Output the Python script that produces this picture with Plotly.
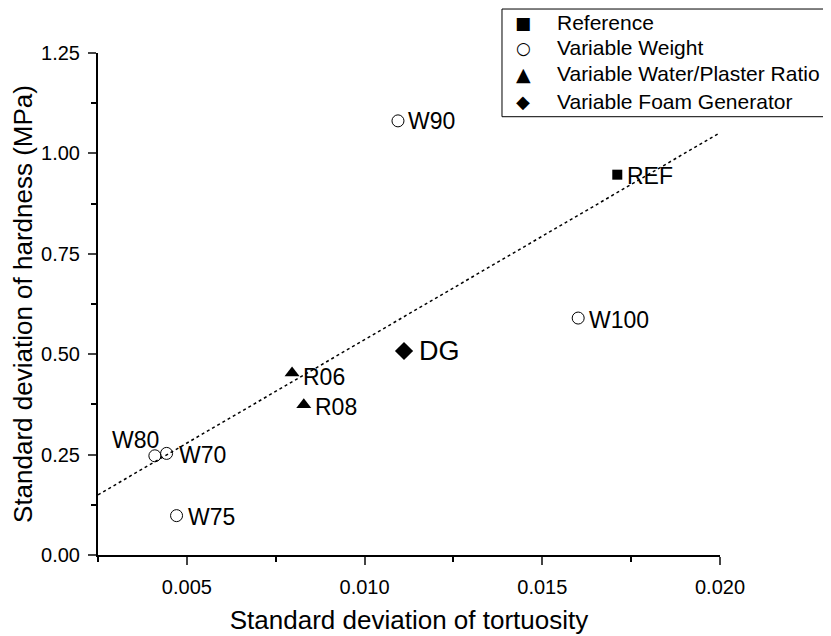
import numpy as np
import plotly.graph_objects as go

# data
ref_names = ["REF"]
ref_x = [0.01711]
ref_y = [0.947]

weight_names = ["W90", "W100", "W80", "W70", "W75"]
weight_x = [0.01094, 0.01601, 0.00410, 0.00443, 0.00471]
weight_y = [1.081, 0.590, 0.247, 0.253, 0.098]

ratio_names = ["R06", "R08"]
ratio_x = [0.00796, 0.00829]
ratio_y = [0.453, 0.374]

foam_names = ["DG"]
foam_x = [0.01111]
foam_y = [0.508]

legend_names = ["Reference", "Variable Weight", "Variable Water/Plaster Ratio",
                "Variable Foam Generator"]
legend_glyphs = ["\u25A0", "\u25CB", "\u25B2", "\u25C6"]

x_range = [0.0025, 0.020]
y_range = [0, 1.25]

font_family = "Arial, Liberation Sans, sans-serif"

# linear fit over all points
all_x = np.array(ref_x + weight_x + ratio_x + foam_x)
all_y = np.array(ref_y + weight_y + ratio_y + foam_y)
slope, intercept = np.polyfit(all_x, all_y, 1)
fit_x = np.array(x_range)
fit_y = slope * fit_x + intercept

fig = go.Figure()

fig.add_trace(go.Scatter(x=fit_x, y=fit_y, mode='lines',
                         line=dict(color='black', width=1.5, dash='dot'),
                         showlegend=False, hoverinfo='skip'))

fig.add_trace(go.Scatter(x=ref_x, y=ref_y, mode='markers', name=legend_names[0],
                         marker=dict(symbol='square', size=10, color='black')))
fig.add_trace(go.Scatter(x=weight_x, y=weight_y, mode='markers', name=legend_names[1],
                         marker=dict(symbol='circle-open', size=12, color='black',
                                     line=dict(width=1))))
fig.add_trace(go.Scatter(x=ratio_x, y=ratio_y, mode='markers', name=legend_names[2],
                         marker=dict(symbol='triangle-up', size=13, color='black')))
fig.add_trace(go.Scatter(x=foam_x, y=foam_y, mode='markers', name=legend_names[3],
                         marker=dict(symbol='diamond', size=14, color='black')))

# point labels
label_style = {
    "REF": dict(xanchor='left', xshift=8, yshift=-1, size=23),
    "W90": dict(xanchor='left', xshift=8, yshift=0, size=23),
    "W100": dict(xanchor='left', xshift=9, yshift=-2, size=23),
    "W80": dict(xanchor='right', xshift=6, yshift=16, size=23),
    "W70": dict(xanchor='left', xshift=10, yshift=-2, size=23),
    "W75": dict(xanchor='left', xshift=9, yshift=-1, size=23),
    "R06": dict(xanchor='left', xshift=9, yshift=-4, size=23),
    "R08": dict(xanchor='left', xshift=9, yshift=-2, size=23),
    "DG": dict(xanchor='left', xshift=13, yshift=0, size=27),
}
names = ref_names + weight_names + ratio_names + foam_names
for name, x, y in zip(names, all_x, all_y):
    s = label_style[name]
    fig.add_annotation(x=x, y=y, text=name, showarrow=False,
                       xanchor=s['xanchor'], yanchor='middle',
                       xshift=s['xshift'], yshift=s['yshift'],
                       font=dict(size=s['size'], color='black', family=font_family))

# legend box drawn by hand so the row spacing matches
fig.add_shape(type='rect', xref='paper', yref='paper',
              x0=0.6495, x1=1.2, y0=0.8731, y1=1.0876,
              line=dict(color='black', width=1), fillcolor='white', layer='above')
legend_rows = [1.0598, 1.0100, 0.9582, 0.9024]
legend_glyph_sizes = [17, 17, 19, 18]
for glyph, gsize, label, yy in zip(legend_glyphs, legend_glyph_sizes, legend_names, legend_rows):
    fig.add_annotation(x=0.6833, y=yy, xref='paper', yref='paper', text=glyph,
                       showarrow=False, xanchor='center', yanchor='middle',
                       font=dict(size=gsize, color='black', family="DejaVu Sans"))
    fig.add_annotation(x=0.7347, y=yy, xref='paper', yref='paper', text=label,
                       showarrow=False, xanchor='left', yanchor='middle',
                       font=dict(size=21, color='black', family=font_family))

fig.update_layout(
    width=831, height=636,
    margin=dict(l=90, r=119, t=45, b=89, autoexpand=False),
    plot_bgcolor='white', paper_bgcolor='white',
    font=dict(family=font_family, color='black', size=20),
    showlegend=False,
    xaxis=dict(range=x_range, showline=True, linecolor='black', linewidth=2,
               showgrid=False, zeroline=False, ticks='outside', ticklen=8,
               tickwidth=2, tickvals=[0.005, 0.010, 0.015, 0.020],
               ticktext=["0.005", "0.010", "0.015", "0.020"],
               tickfont=dict(size=20), ticklabelstandoff=5,
               minor=dict(tickvals=[0.0025, 0.0075, 0.0125, 0.0175], ticks='outside',
                          ticklen=5, tickwidth=2, tickcolor='black'),
               title=dict(text="Standard deviation of tortuosity", font=dict(size=26),
                          standoff=14)),
    yaxis=dict(range=y_range, showline=True, linecolor='black', linewidth=2,
               showgrid=False, zeroline=False, ticks='outside', ticklen=8,
               tickwidth=2, tickvals=[0, 0.25, 0.5, 0.75, 1.0, 1.25],
               ticktext=["0.00", "0.25", "0.50", "0.75", "1.00", "1.25"],
               tickfont=dict(size=20), ticklabelstandoff=4,
               minor=dict(tickvals=[0.125, 0.375, 0.625, 0.875, 1.125], ticks='outside',
                          ticklen=5, tickwidth=2, tickcolor='black'),
               title=dict(text="Standard deviation of hardness (MPa)", font=dict(size=26),
                          standoff=6)),
)

fig.write_html("out.html")
